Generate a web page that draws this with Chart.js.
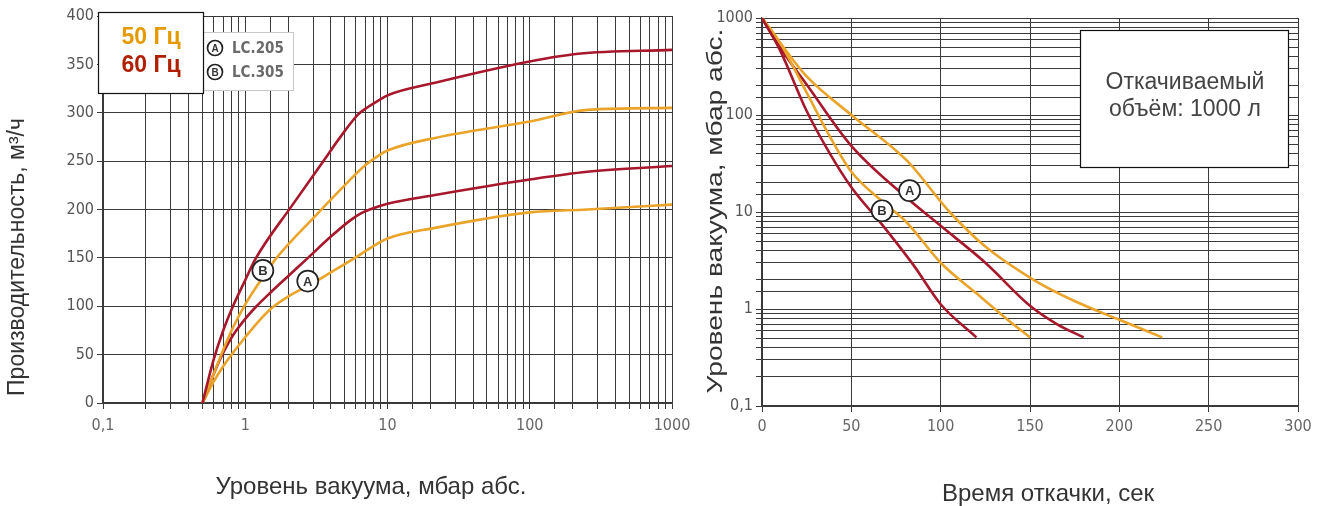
<!DOCTYPE html>
<html><head><meta charset="utf-8">
<script src="https://cdn.jsdelivr.net/npm/chart.js@4.4.0/dist/chart.umd.min.js"></script>
<style>
html,body{margin:0;padding:0;background:#fff;width:1322px;height:506px;overflow:hidden}
#wl{position:absolute;left:0;top:0;width:690px;height:506px}
#wr{position:absolute;left:690px;top:0;width:632px;height:506px}
</style></head><body>
<div id="wl"><canvas id="cl"></canvas></div>
<div id="wr"><canvas id="cr"></canvas></div>
<script>
// ---------- LEFT CHART DATA: capacity vs vacuum level ----------
const leftXDecades = [0.1, 1, 10, 100, 1000];
const leftXTickLabels = ['0,1', '1', '10', '100', '1000'];
const leftYTicks = [0, 50, 100, 150, 200, 250, 300, 350, 400];

const lcB60_p = [0.5, 0.6, 0.7, 0.82, 1.0, 1.17, 2.13, 3.35, 5, 6.2, 7.3, 8.5, 10, 21.6, 100, 219, 1000];
const lcB60_q = [0, 45, 75, 100, 127, 148, 204, 245, 281, 298, 306, 312, 318, 331, 353, 361, 365];
const lcB50_p = [0.5, 0.6, 0.7, 0.82, 1.0, 1.3, 1.66, 3.09, 5, 7.0, 8.5, 10, 21.6, 100, 254, 1000];
const lcB50_q = [0, 30, 55, 78, 102, 128, 150, 193, 225, 246, 255, 261, 274, 291, 303, 305];
const lcA60_p = [0.5, 0.6, 0.7, 0.82, 1.0, 1.2, 1.5, 2.0, 2.76, 4.0, 5.5, 6.5, 7.5, 10, 21.6, 100, 254, 1000];
const lcA60_q = [0, 30, 52, 70, 87, 100, 114, 131, 150, 172, 189, 196, 200, 206, 215, 231, 239, 245];
const lcA50_p = [0.5, 0.6, 0.7, 0.82, 1.0, 1.25, 1.53, 2.0, 3.0, 4.0, 5.9, 7, 10, 21.6, 100, 254, 1000];
const lcA50_q = [0, 22, 38, 52, 68, 85, 98, 110, 124, 135, 150, 157, 170, 181, 197, 200, 205];

// ---------- RIGHT CHART DATA: pump-down time ----------
const rightXTicks = [0, 50, 100, 150, 200, 250, 300];
const rightYDecades = [0.1, 1, 10, 100, 1000];
const rightYTickLabels = ['0,1', '1', '10', '100', '1000'];

const tdB60_t = [0, 10, 25, 38, 50, 67, 85, 100, 120];
const tdB60_p = [1000, 470, 110, 40, 18, 7.5, 2.8, 1.12, 0.51];
const tdB50_t = [0, 10, 25, 38, 50, 67, 81, 100, 120, 138, 150];
const tdB50_p = [1000, 560, 170, 60, 26, 13, 7.8, 3.0, 1.45, 0.76, 0.51];
const tdA60_t = [0, 10, 25, 50, 81, 100, 125, 150, 165, 180];
const tdA60_p = [1000, 500, 206, 48, 14, 7.2, 3.0, 1.08, 0.7, 0.51];
const tdA50_t = [0, 10, 25, 50, 81, 105, 125, 152, 174, 201, 224];
const tdA50_p = [1000, 560, 250, 100, 34, 10, 4.4, 2.0, 1.23, 0.76, 0.51];

// circled curve markers (data coordinates)
const leftMarkers = [{label: 'B', x: 1.33, y: 137}, {label: 'A', x: 2.75, y: 126}];
const rightMarkers = [{label: 'A', x: 82.6, y: 16.6}, {label: 'B', x: 67.2, y: 10.3}];

const legendHz = ['50 Гц', '60 Гц'];
const legendModels = [{label: 'A', text: 'LC.205'}, {label: 'B', text: 'LC.305'}];
const boxLines = ['Откачиваемый', 'объём: 1000 л'];
const titles = {
  leftX: 'Уровень вакуума, мбар абс.',
  leftY: 'Производительность, м³/ч',
  rightX: 'Время откачки, сек',
  rightY: 'Уровень вакуума, мбар абс.'
};

const C50 = '#eba42a';
const C60 = '#a8182c';
const GRID = '#3a3a3a';
const TICKFONT = "'Liberation Sans Narrow','DejaVu Sans Condensed','Roboto Condensed',sans-serif";
const TEXTFONT = "'Liberation Sans',Arial,sans-serif";

function zip(xs, ys) { return xs.map((x, i) => ({x: x, y: ys[i]})); }
function ds(label, xs, ys, color) {
  return {label, data: zip(xs, ys), borderColor: color, backgroundColor: color,
    borderWidth: 2.6, pointRadius: 0, cubicInterpolationMode: 'monotone', fill: false};
}
function decadeLabel(v, decs, labels) {
  for (let i = 0; i < decs.length; i++) if (Math.abs(v / decs[i] - 1) < 1e-6) return labels[i];
  return '';
}
function circleMark(ctx, x, y, r, letter, fs) {
  ctx.save();
  ctx.beginPath(); ctx.arc(x, y, r, 0, Math.PI * 2);
  ctx.fillStyle = '#fff'; ctx.fill();
  ctx.lineWidth = 1.7; ctx.strokeStyle = '#222'; ctx.stroke();
  ctx.fillStyle = '#333'; ctx.font = 'bold ' + fs + 'px ' + TEXTFONT;
  ctx.textAlign = 'center'; ctx.textBaseline = 'middle';
  ctx.fillText(letter, x, y + 1);
  ctx.restore();
}
function noXPad(s) { s.paddingLeft = 0; s.paddingRight = 0; }
function noYPad(s) { s.paddingTop = 0; s.paddingBottom = 0; }

Chart.defaults.animation = false;

// ---------- LEFT ----------
const leftDecor = {
  id: 'leftDecor',
  afterDatasetsDraw(chart) {
    const ctx = chart.ctx, xs = chart.scales.x, ys = chart.scales.y;
    leftMarkers.forEach(m => circleMark(ctx, xs.getPixelForValue(m.x), ys.getPixelForValue(m.y), 10.5, m.label, 13));
    ctx.save();
    // model legend box
    ctx.fillStyle = '#fff'; ctx.fillRect(200, 32, 93, 58);
    ctx.strokeStyle = '#c8c8c8'; ctx.lineWidth = 1; ctx.strokeRect(200.5, 32.5, 93, 58);
    legendModels.forEach((m, i) => {
      const y = 48 + i * 24;
      circleMark(ctx, 215, y, 7.5, m.label, 10);
      ctx.fillStyle = '#6a6a6a'; ctx.font = 'bold 15px ' + TICKFONT;
      ctx.textAlign = 'left'; ctx.textBaseline = 'middle';
      ctx.fillText(m.text, 232, y + 1);
    });
    // frequency box
    ctx.fillStyle = '#fff'; ctx.fillRect(98, 12, 105, 81);
    ctx.strokeStyle = '#111'; ctx.lineWidth = 1.2; ctx.strokeRect(98.5, 12.5, 105, 81);
    ctx.font = 'bold 23px ' + TEXTFONT; ctx.textAlign = 'center'; ctx.textBaseline = 'middle';
    ctx.fillStyle = '#e59a00'; ctx.fillText(legendHz[0], 151, 38);
    ctx.fillStyle = '#b02000'; ctx.fillText(legendHz[1], 151, 66);
    // titles
    ctx.fillStyle = '#333'; ctx.font = '24px ' + TEXTFONT;
    ctx.fillText(titles.leftX, 371, 487);
    ctx.font = '23px ' + TEXTFONT;
    ctx.translate(18, 257); ctx.rotate(-Math.PI / 2);
    ctx.fillText(titles.leftY, 0, 0);
    ctx.restore();
  }
};

new Chart(document.getElementById('cl'), {
  type: 'line',
  data: {datasets: [
    ds('LC.305 60 Гц', lcB60_p, lcB60_q, C60),
    ds('LC.305 50 Гц', lcB50_p, lcB50_q, C50),
    ds('LC.205 60 Гц', lcA60_p, lcA60_q, C60),
    ds('LC.205 50 Гц', lcA50_p, lcA50_q, C50)
  ]},
  options: {
    responsive: true, maintainAspectRatio: false, devicePixelRatio: 1,
    layout: {padding: {left: 0, right: 18, top: 16, bottom: 0}},
    plugins: {legend: {display: false}, tooltip: {enabled: false}},
    scales: {
      x: {type: 'logarithmic', min: leftXDecades[0], max: leftXDecades[leftXDecades.length - 1],
        grid: {color: GRID, lineWidth: 1, tickLength: 6},
        border: {color: GRID, width: 1.2},
        ticks: {autoSkip: false, maxRotation: 0, padding: 7, color: '#666',
          font: {family: TICKFONT, size: 16},
          callback: v => decadeLabel(v, leftXDecades, leftXTickLabels)},
        afterFit: s => { s.height = 103; noXPad(s); }
      },
      y: {type: 'linear', min: leftYTicks[0], max: leftYTicks[leftYTicks.length - 1],
        grid: {color: GRID, lineWidth: 1, tickLength: 6},
        border: {color: GRID, width: 1.2},
        afterBuildTicks: s => { s.ticks = leftYTicks.map(v => ({value: v})); },
        ticks: {padding: 3, color: '#555', font: {family: TICKFONT, size: 16}},
        afterFit: s => { s.width = 103; noYPad(s); }
      }
    }
  },
  plugins: [leftDecor]
});

// ---------- RIGHT ----------
const rightDecor = {
  id: 'rightDecor',
  afterDatasetsDraw(chart) {
    const ctx = chart.ctx, xs = chart.scales.x, ys = chart.scales.y;
    rightMarkers.forEach(m => circleMark(ctx, xs.getPixelForValue(m.x), ys.getPixelForValue(m.y), 10.5, m.label, 13));
    ctx.save();
    ctx.fillStyle = '#fff'; ctx.fillRect(1080 - 690, 30, 208, 137);
    ctx.strokeStyle = '#111'; ctx.lineWidth = 1.2; ctx.strokeRect(1080.5 - 690, 30.5, 208, 137);
    ctx.fillStyle = '#444'; ctx.font = '23px ' + TEXTFONT;
    ctx.textAlign = 'center'; ctx.textBaseline = 'middle';
    ctx.fillText(boxLines[0], 1185 - 690, 83);
    ctx.fillText(boxLines[1], 1185 - 690, 110);
    ctx.fillStyle = '#333'; ctx.font = '24px ' + TEXTFONT;
    ctx.fillText(titles.rightX, 1048 - 690, 494);
    ctx.font = '22px ' + TEXTFONT;
    ctx.translate(716 - 690, 211); ctx.rotate(-Math.PI / 2); ctx.scale(1.28, 1);
    ctx.fillText(titles.rightY, 0, 0);
    ctx.restore();
  }
};

new Chart(document.getElementById('cr'), {
  type: 'line',
  data: {datasets: [
    ds('LC.305 60 Гц', tdB60_t, tdB60_p, C60),
    ds('LC.305 50 Гц', tdB50_t, tdB50_p, C50),
    ds('LC.205 60 Гц', tdA60_t, tdA60_p, C60),
    ds('LC.205 50 Гц', tdA50_t, tdA50_p, C50)
  ]},
  options: {
    responsive: true, maintainAspectRatio: false, devicePixelRatio: 1,
    layout: {padding: {left: 0, right: 24, top: 18, bottom: 0}},
    plugins: {legend: {display: false}, tooltip: {enabled: false}},
    scales: {
      x: {type: 'linear', min: rightXTicks[0], max: rightXTicks[rightXTicks.length - 1],
        grid: {color: GRID, lineWidth: 1, tickLength: 6},
        border: {color: GRID, width: 1.2},
        afterBuildTicks: s => { s.ticks = rightXTicks.map(v => ({value: v})); },
        ticks: {maxRotation: 0, padding: 5, color: '#666', font: {family: TICKFONT, size: 16}},
        afterFit: s => { s.height = 100; noXPad(s); }
      },
      y: {type: 'logarithmic', min: rightYDecades[0], max: rightYDecades[rightYDecades.length - 1],
        grid: {color: GRID, lineWidth: 1, tickLength: 6},
        border: {color: GRID, width: 1.2},
        ticks: {autoSkip: false, padding: 3, color: '#555', font: {family: TICKFONT, size: 16},
          callback: v => decadeLabel(v, rightYDecades, rightYTickLabels)},
        afterFit: s => { s.width = 72; noYPad(s); }
      }
    }
  },
  plugins: [rightDecor]
});
</script></body></html>
